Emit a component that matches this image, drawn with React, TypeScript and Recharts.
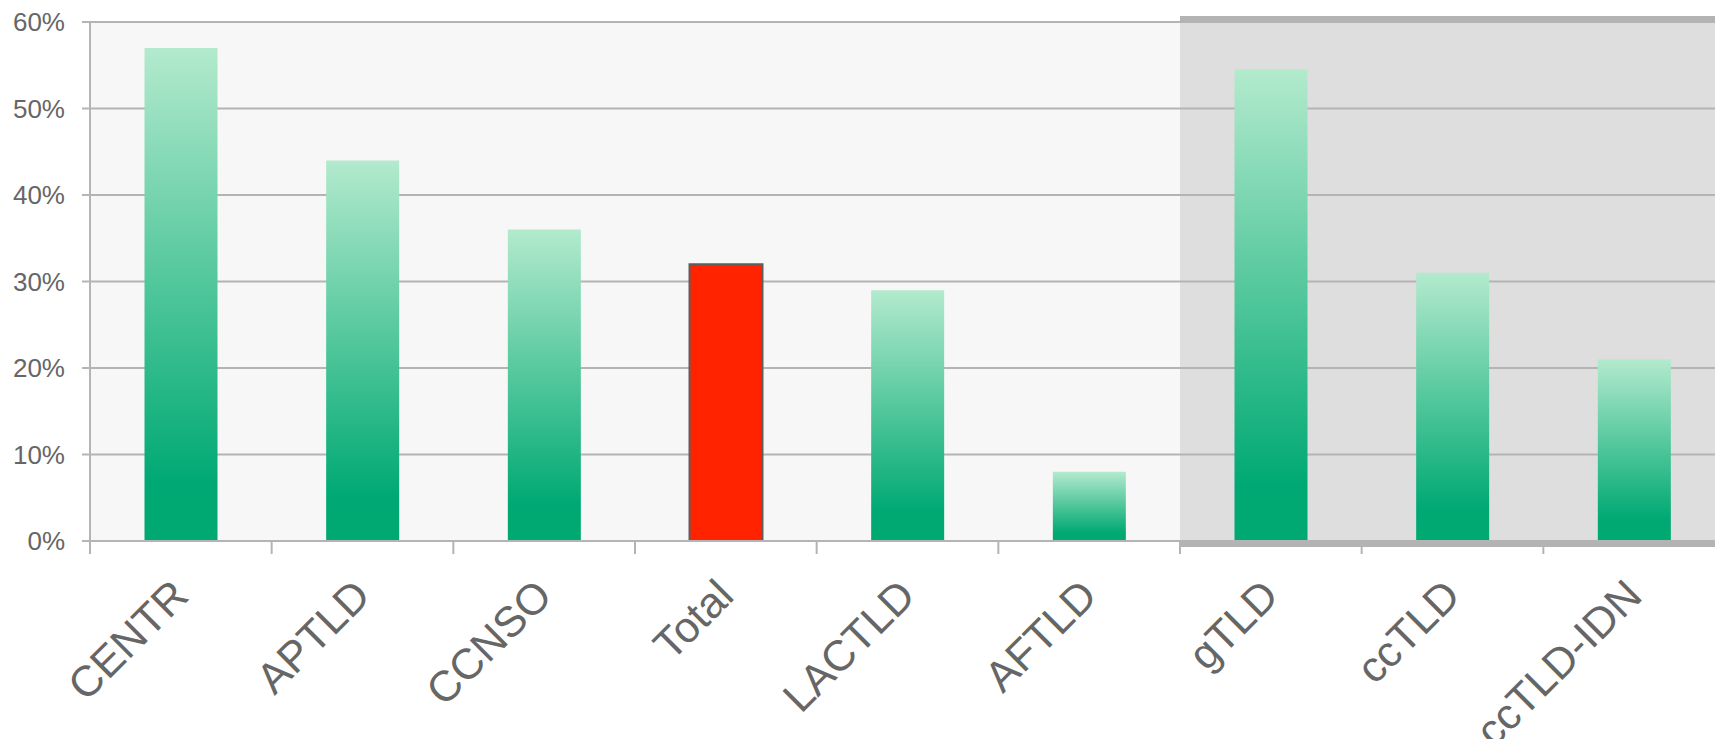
import { Bar, BarChart, CartesianGrid, Cell, ReferenceArea, XAxis, YAxis } from 'recharts'

// Share per group (%)
const categories = ['CENTR', 'APTLD', 'CCNSO', 'Total', 'LACTLD', 'AFTLD', 'gTLD', 'ccTLD', 'ccTLD-IDN']
const shares = [57, 44, 36, 32, 29, 8, 54.5, 31, 21]
const yTicks = [0, 10, 20, 30, 40, 50, 60]
const highlighted = 'Total'
const shadedFrom = 'gTLD'
const shadedTo = 'ccTLD-IDN'

const chartData = categories.map((name, i) => ({ name, share: shares[i] }))

const CHART_W = 1725
const CHART_H = 739
const Y_W = 90
const BAND = (CHART_W - Y_W) / categories.length
const FONT = 'Liberation Sans, Arial, sans-serif'
const GRID = '#b4b4b4'
const TEXT = '#666666'

function XTick({ x, y, payload }: any) {
  const ax = x + 10
  const ay = y + 57
  return (
    <g>
      <line x1={x - BAND / 2} x2={x - BAND / 2} y1={y} y2={y + 13} stroke={GRID} strokeWidth={2} />
      <text x={ax} y={ay} transform={`rotate(-45 ${ax} ${ay})`} textAnchor="end" fontSize={43} fill={TEXT} fontFamily={FONT}>
        {payload.value}
      </text>
    </g>
  )
}

// gray panel behind the last three groups, with thick borders above and below the plot
function ShadedPanel({ x, y, width, height }: any) {
  return (
    <g>
      <rect x={x} y={y - 6} width={width + 20} height={height + 12} fill="#dedede" />
      <rect x={x} y={y - 6} width={width + 20} height={6} fill="#b3b3b3" />
      <rect x={x} y={y + height} width={width + 20} height={6} fill="#b3b3b3" />
    </g>
  )
}

export default function App() {
  return (
    <div style={{ position: 'fixed', left: 0, top: 0, width: 1715, height: 739, overflow: 'hidden', background: '#fff' }}>
      <BarChart
        width={CHART_W}
        height={CHART_H}
        data={chartData}
        margin={{ top: 22, right: 0, left: 0, bottom: 0 }}
        barCategoryGap="30%"
      >
        <defs>
          <linearGradient id="greenBar" x1="0" y1="0" x2="0" y2="1">
            <stop offset="0%" stopColor="#b3eacd" />
            <stop offset="88%" stopColor="#00a973" />
            <stop offset="100%" stopColor="#00a872" />
          </linearGradient>
        </defs>
        <CartesianGrid fill="#f7f7f7" horizontal={false} vertical={false} zIndex={-100} />
        <ReferenceArea x1={shadedFrom} x2={shadedTo} ifOverflow="visible" shape={<ShadedPanel />} zIndex={-90} />
        <CartesianGrid vertical={false} stroke={GRID} strokeWidth={2} zIndex={-80} />
        <XAxis
          dataKey="name"
          height={198}
          interval={0}
          tickSize={0}
          tickMargin={0}
          tickLine={false}
          axisLine={{ stroke: GRID, strokeWidth: 2 }}
          tick={<XTick />}
        />
        <YAxis
          width={Y_W}
          domain={[0, 60]}
          ticks={yTicks}
          tickFormatter={(v) => `${v}%`}
          tickSize={8}
          tickMargin={17}
          axisLine={{ stroke: GRID, strokeWidth: 2 }}
          tickLine={{ stroke: GRID, strokeWidth: 2 }}
          tick={{ fill: TEXT, fontSize: 26, fontFamily: FONT }}
        />
        <Bar dataKey="share" fill="url(#greenBar)" isAnimationActive={false}>
          {chartData.map((d) => (
            <Cell
              key={d.name}
              fill={d.name === highlighted ? '#ff2300' : 'url(#greenBar)'}
              stroke={d.name === highlighted ? '#5e5e5e' : 'none'}
              strokeWidth={d.name === highlighted ? 2 : 0}
            />
          ))}
        </Bar>
      </BarChart>
    </div>
  )
}
